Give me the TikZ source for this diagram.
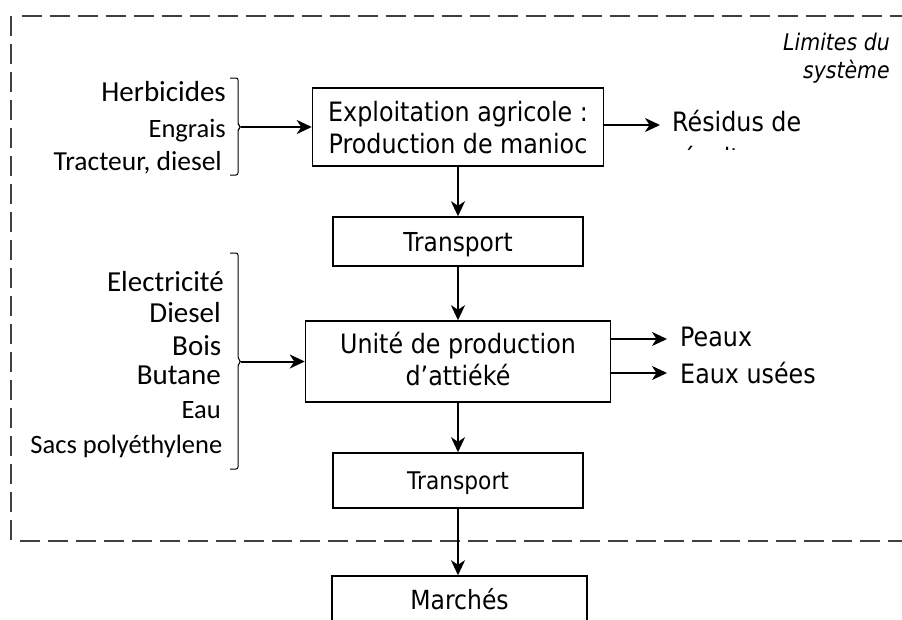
\documentclass[tikz,border=0pt]{standalone}
\usepackage{fontspec}
\usepackage{graphicx}
\setmainfont{DejaVu Sans}
\newfontfamily\calib{Carlito}
\usetikzlibrary{arrows.meta}
% sans labels are set slightly taller than wide
\newcommand\tallt[1]{\scalebox{1}[1.12]{#1}}
\begin{document}
\begin{tikzpicture}[x=1pt,y=-1pt,
  flow/.style={draw,line width=1.5pt,rectangle,inner sep=0pt,align=center},
  arr/.style={line width=2pt,-{Stealth[length=15pt,width=14pt,inset=4.5pt]}},
  bound/.style={draw=black!75,line width=2pt,dash pattern=on 20pt off 8pt},
  brace/.style={draw,line width=1pt,rounded corners=2pt},
  inbig/.style={font=\calib\fontsize{29}{32}\selectfont,inner sep=0pt,anchor=base east},
  insmall/.style={font=\calib\fontsize{26.5}{30}\selectfont,inner sep=0pt,anchor=base east},
  outlbl/.style={font=\fontsize{23.8}{32}\selectfont,inner sep=0pt,anchor=base west}]

\useasboundingbox (0,0) rectangle (902,619);
\clip (0,0) rectangle (902,619);

% system boundary
\draw[bound] (21.7,16) -- (902,16);
\draw[bound] (11,16) -- (11,541);
\draw[bound] (20,541) -- (902,541);
\node[font=\itshape\fontsize{20.5}{28}\selectfont,align=right,inner sep=0pt,anchor=north east] (lim) at (890,32.6) {\tallt{Limites du}\\\tallt{système}};

% process chain
\node[flow,minimum width=291pt,minimum height=78pt,font=\fontsize{23.8}{32}\selectfont] (farm) at (458,127) {\rule{0pt}{21.4pt}\tallt{Exploitation agricole :}\\\tallt{Production de manioc}};
\node[flow,minimum width=250pt,minimum height=49pt,font=\fontsize{23.3}{28}\selectfont,text depth=0pt] (tr1) at (458,241.5) {\tallt{Transport}};
\node[flow,minimum width=305pt,minimum height=81pt,font=\fontsize{23.8}{32}\selectfont] (plant) at (458,361.5) {\tallt{Unité de production}\\\tallt{d’attiéké}\rule[-5.3pt]{0pt}{5.3pt}};
\node[flow,minimum width=250pt,minimum height=55pt,font=\fontsize{21.7}{26}\selectfont,text depth=0pt] (tr2) at (458,480.5) {\tallt{Transport}};
\node[flow,minimum width=255pt,minimum height=45pt,font=\fontsize{23.5}{28}\selectfont,text depth=0pt] (mkt) at (459.5,598.5) {\tallt{Marchés}};

\draw[arr] (farm.south) -- (tr1.north);
\draw[arr] (tr1.south) -- (plant.north);
\draw[arr] (plant.south) -- (tr2.north);
\draw[arr] (tr2.south) -- (tr2.south |- mkt.north);

% farm inputs
\node[inbig] (herb) at (226,101.7) {Herbicides};
\node[insmall] (engr) at (226,137) {Engrais};
\node[insmall,font=\calib\fontsize{27.5}{30}\selectfont] (trac) at (222,170.7) {Tracteur, diesel};
\draw[brace] (230,78) -- (238,78) -- (238,125) -- (241,127) -- (238,129) -- (238,175) -- (230,175);
\coordinate (b1) at (241,127);
\draw[arr] (b1) -- (farm.west);

% processing inputs
\node[inbig] (elec) at (224,291.7) {Electricité};
\node[inbig] (dies) at (221,322.7) {Diesel};
\node[inbig] (bois) at (221.5,355) {Bois};
\node[inbig] (buta) at (221,384) {Butane};
\node[insmall] (eau) at (221,418) {Eau};
\node[insmall] (sacs) at (222.5,453) {Sacs polyéthylene};
\draw[brace] (230,253) -- (238,253) -- (238,359) -- (241,361.5) -- (238,364) -- (238,469) -- (230,469);
\coordinate (b2) at (241,361.5);
\draw[arr] (b2) -- (plant.west);

% outputs
\coordinate (r1) at (660,125);
\draw[arr] (farm.east |- r1) -- (r1);
\begin{scope}
  \clip (640,90) rectangle (850,149.5);
  \node[outlbl] (res) at (672,131.7) {\tallt{Résidus de}};
  \node[outlbl] (rec) at (672,167.5) {\tallt{récolte}};
\end{scope}

\coordinate (p1) at (667,339);
\coordinate (p2) at (667,373);
\draw[arr] (plant.east |- p1) -- (p1);
\draw[arr] (plant.east |- p2) -- (p2);
\node[outlbl] (peaux) at (680,346) {\tallt{Peaux}};
\node[outlbl] (eaux) at (680,383) {\tallt{Eaux usées}};
\end{tikzpicture}
\end{document}
